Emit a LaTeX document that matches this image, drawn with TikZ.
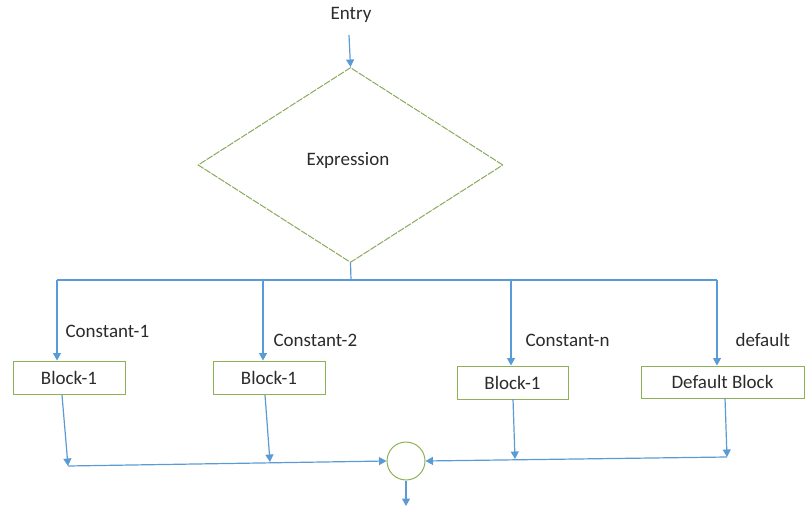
\documentclass[tikz,border=0pt]{standalone}
\usepackage{fontspec}
\setmainfont{Carlito}
\usetikzlibrary{shapes.geometric,arrows.meta}
\definecolor{flowblue}{HTML}{5B9BD5}
\definecolor{boxgreen}{HTML}{8DB255}
\definecolor{labelgray}{HTML}{2B2B2B}
\begin{document}
\begin{tikzpicture}[x=1pt,y=-1pt,
  every node/.style={font=\fontsize{19}{22}\selectfont, text=labelgray},
  flow/.style={draw=flowblue, line width=1.2pt},
  arr/.style={flow, -{Triangle[width=8pt,length=7.5pt]}},
  blockbox/.style={draw=boxgreen, line width=1pt, inner sep=0pt},
  decision/.style={diamond, draw=boxgreen!85!gray, line width=1pt,
    dash pattern=on 7pt off 1.2pt, inner sep=0pt,
    minimum width=305pt, minimum height=195pt},
  mergecircle/.style={circle, draw=boxgreen, line width=1pt, minimum size=38pt, inner sep=0pt},
  caselabel/.style={anchor=west}]
\useasboundingbox (0,0) rectangle (805,510);

% entry and decision
\node (entry) at (351,15) {Entry};
\coordinate (entrytail) at (349,35);
\node[decision] (expr) at (350.5,165) {};
\node at (348,160) {Expression};
\draw[arr] (entrytail) -- (expr.north);

% branch bus
\coordinate (bus) at (351,280);
\coordinate (b1) at (57,280);
\coordinate (b2) at (263,280);
\coordinate (b3) at (511,280);
\coordinate (b4) at (717,280);
\draw[flow] (expr.south) -- (bus);
\draw[flow] (b1) -- (b4);

% case blocks
\node[blockbox, minimum width=112pt, minimum height=33pt] (blk1) at (69,377.5) {Block-1};
\node[blockbox, minimum width=112pt, minimum height=33pt] (blk2) at (269,377.5) {Block-1};
\node[blockbox, minimum width=111pt, minimum height=33pt] (blk3) at (512.5,382.5) {Block-1};
\node[blockbox, minimum width=163pt, minimum height=32pt] (blk4) at (722.5,382) {Default Block};

\draw[arr] (b1) -- (b1 |- blk1.north);
\draw[arr] (b2) -- (b2 |- blk2.north);
\draw[arr] (b3) -- (b3 |- blk3.north);
\draw[arr] (b4) -- (b4 |- blk4.north);

\node[caselabel] (c1) at (62,331) {Constant-1};
\node[caselabel] (c2) at (270,340) {Constant-2};
\node[caselabel] (c3) at (522,340) {Constant-n};
\node[caselabel] (c4) at (732,340) {default};

% merge
\node[mergecircle] (merge) at (406,461) {};
\coordinate (m1) at (68,466);
\coordinate (m2) at (270,462);
\coordinate (m3) at (515,459);
\coordinate (m4) at (727,457);
\coordinate (exit) at (406,506);

\draw[arr] (62,395) -- (m1);
\draw[arr] (265,395) -- (m2);
\draw[arr] (513,399) -- (m3);
\draw[arr] (725,398) -- (m4);
\draw[arr] (m1) -- (merge.west);
\draw[arr] (m4) -- (merge.east);
\draw[arr] (merge.south) -- (exit);
\end{tikzpicture}
\end{document}
